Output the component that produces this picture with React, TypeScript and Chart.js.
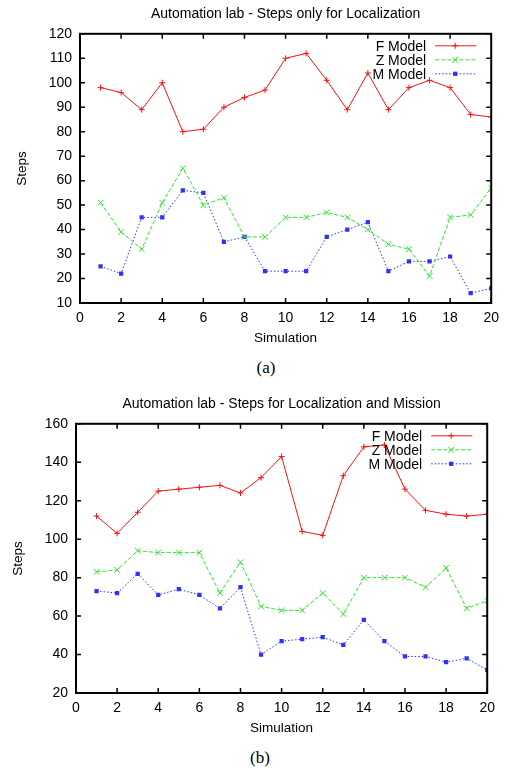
import React, { useEffect, useRef } from "react";
import { Chart, registerables } from "chart.js";

Chart.register(...registerables);

const simulations = [1, 2, 3, 4, 5, 6, 7, 8, 9, 10, 11, 12, 13, 14, 15, 16, 17, 18, 19, 20];
const seriesNames = ["F Model", "Z Model", "M Model"];

// Chart (a): steps only for localization
const titleA = "Automation lab - Steps only for Localization";
const fModelA = [98, 96, 89, 100, 80, 81, 90, 94, 97, 110, 112, 101, 89, 104, 89, 98, 101, 98, 87, 86];
const zModelA = [51, 39, 32, 51, 65, 50, 53, 37, 37, 45, 45, 47, 45, 40, 34, 32, 21, 45, 46, 57];
const mModelA = [25, 22, 45, 45, 56, 55, 35, 37, 23, 23, 23, 37, 40, 43, 23, 27, 27, 29, 14, 16];
const yRangeA = [10, 120, 10];

// Chart (b): steps for localization and mission
const titleB = "Automation lab - Steps for Localization and Mission";
const fModelB = [112, 103, 114, 125, 126, 127, 128, 124, 132, 143, 104, 102, 133, 148, 149, 126, 115, 113, 112, 113];
const zModelB = [83, 84, 94, 93, 93, 93, 72, 88, 65, 63, 63, 72, 61, 80, 80, 80, 75, 85, 64, 68];
const mModelB = [73, 72, 82, 71, 74, 71, 64, 75, 40, 47, 48, 49, 45, 58, 47, 39, 39, 36, 38, 32];
const yRangeB = [20, 160, 20];

const xRange = [0, 20, 2];
const xTitle = "Simulation";
const yTitle = "Steps";

const FONT = "'Liberation Sans', Arial, Helvetica, sans-serif";
const RED = "#f41414";
const GREEN = "#2ee62e";
const BLUE = "#3030ff";

function drawMarker(ctx: CanvasRenderingContext2D, style: string, x: number, y: number, r: number, color: string) {
  ctx.save();
  ctx.setLineDash([]);
  ctx.strokeStyle = color;
  ctx.fillStyle = color;
  ctx.lineWidth = 1;
  ctx.beginPath();
  if (style === "cross") {
    ctx.moveTo(x - r, y); ctx.lineTo(x + r, y);
    ctx.moveTo(x, y - r); ctx.lineTo(x, y + r);
    ctx.stroke();
  } else if (style === "crossRot") {
    ctx.moveTo(x - r * 0.75, y - r * 0.75); ctx.lineTo(x + r * 0.75, y + r * 0.75);
    ctx.moveTo(x - r * 0.75, y + r * 0.75); ctx.lineTo(x + r * 0.75, y - r * 0.75);
    ctx.stroke();
  } else {
    const s = r * Math.SQRT1_2;
    ctx.fillRect(x - s, y - s, 2 * s, 2 * s);
  }
  ctx.restore();
}

const gnuplotPlugin = {
  id: "gnuplotFrame",
  afterDraw(chart: any) {
    const { ctx, chartArea: a, scales } = chart;
    const xs = scales.x;
    const ys = scales.y;
    ctx.save();
    ctx.strokeStyle = "#000";
    ctx.lineWidth = 1.5;
    ctx.setLineDash([]);
    ctx.beginPath();
    const tl = 5;
    xs.ticks.forEach((t: any) => {
      const px = xs.getPixelForValue(t.value);
      ctx.moveTo(px, a.bottom); ctx.lineTo(px, a.bottom - tl);
      ctx.moveTo(px, a.top); ctx.lineTo(px, a.top + tl);
    });
    ys.ticks.forEach((t: any) => {
      const py = ys.getPixelForValue(t.value);
      ctx.moveTo(a.left, py); ctx.lineTo(a.left + tl, py);
      ctx.moveTo(a.right, py); ctx.lineTo(a.right - tl, py);
    });
    ctx.stroke();
    ctx.lineWidth = 2;
    ctx.strokeRect(a.left, a.top, a.right - a.left, a.bottom - a.top);

    // gnuplot style key, inside top right
    ctx.font = `14px ${FONT}`;
    ctx.textAlign = "right";
    ctx.textBaseline = "middle";
    chart.data.datasets.forEach((ds: any, i: number) => {
      const y = a.top + 12 + i * 14;
      ctx.fillStyle = "#000";
      ctx.fillText(ds.label, a.right - 65, y + 1);
      ctx.save();
      ctx.strokeStyle = ds.borderColor;
      ctx.lineWidth = ds.borderWidth;
      ctx.setLineDash(ds.borderDash || []);
      ctx.beginPath();
      ctx.moveTo(a.right - 56, y);
      ctx.lineTo(a.right - 15, y);
      ctx.stroke();
      ctx.restore();
      drawMarker(ctx, ds.pointStyle, a.right - 36, y, ds.pointRadius, ds.borderColor);
    });
    ctx.restore();
  },
};

function makeConfig(title: string, f: number[], z: number[], m: number[], yRange: number[]) {
  const toPts = (vals: number[]) => simulations.map((s, i) => ({ x: s, y: vals[i] }));
  const datasets = [
    { label: seriesNames[0], data: toPts(f), borderColor: RED, backgroundColor: RED, borderWidth: 1, borderDash: [], pointStyle: "cross", pointRadius: 3, pointBorderWidth: 1 },
    { label: seriesNames[1], data: toPts(z), borderColor: GREEN, backgroundColor: GREEN, borderWidth: 1, borderDash: [4, 2], pointStyle: "crossRot", pointRadius: 4, pointBorderWidth: 1 },
    { label: seriesNames[2], data: toPts(m), borderColor: BLUE, backgroundColor: BLUE, borderWidth: 1, borderDash: [1.5, 2], pointStyle: "rect", pointRadius: 3, pointBorderWidth: 0 },
  ];
  return {
    type: "line" as const,
    data: { datasets },
    options: {
      responsive: false,
      animation: false as const,
      devicePixelRatio: 1,
      layout: { padding: { left: 0, right: 13, top: 0, bottom: 0 } },
      plugins: {
        legend: { display: false },
        tooltip: { enabled: false },
        title: {
          display: true,
          fullSize: false,
          text: title,
          color: "#000",
          font: { family: FONT, size: 14, weight: "normal" as const },
          padding: { top: 6, bottom: 11 },
        },
      },
      elements: { line: { tension: 0 } },
      scales: {
        x: {
          type: "linear" as const,
          min: xRange[0],
          max: xRange[1],
          ticks: { stepSize: xRange[2], color: "#000", font: { family: FONT, size: 14 }, padding: 7 },
          grid: { display: false, drawTicks: false },
          border: { display: false },
          title: { display: true, text: xTitle, color: "#000", font: { family: FONT, size: 13.5 }, padding: { top: 0, bottom: 9 } },
          afterFit: (s: any) => { s.height = 52; },
        },
        y: {
          type: "linear" as const,
          min: yRange[0],
          max: yRange[1],
          ticks: { stepSize: yRange[2], color: "#000", font: { family: FONT, size: 14 }, padding: 8 },
          grid: { display: false, drawTicks: false },
          border: { display: false },
          title: { display: true, text: yTitle, color: "#000", font: { family: FONT, size: 13.5 }, padding: { top: 14, bottom: 0 } },
          afterFit: (s: any) => { s.width = 80; },
        },
      },
    },
    plugins: [gnuplotPlugin],
  };
}

function LineChart(props: { config: any; left: number; top: number }) {
  const ref = useRef<HTMLCanvasElement | null>(null);
  useEffect(() => {
    if (!ref.current) return;
    const chart = new Chart(ref.current, props.config);
    return () => chart.destroy();
  }, []);
  return (
    <canvas
      ref={ref}
      width={506}
      height={355}
      style={{ position: "absolute", left: props.left, top: props.top, width: 506, height: 355 }}
    />
  );
}

const captionStyle = (cx: number, cy: number): React.CSSProperties => ({
  position: "absolute",
  left: cx,
  top: cy,
  transform: "translate(-50%, -50%)",
  fontFamily: "'Liberation Serif', 'Times New Roman', serif",
  fontSize: 17,
  color: "#000",
  whiteSpace: "nowrap",
});

export default function App() {
  const cfgA = makeConfig(titleA, fModelA, zModelA, mModelA, yRangeA);
  const cfgB = makeConfig(titleB, fModelB, zModelB, mModelB, yRangeB);
  return (
    <div style={{ position: "absolute", left: 0, top: 0, width: 506, height: 771, background: "#fff", overflow: "hidden" }}>
      <LineChart config={cfgA} left={0} top={0} />
      <div style={captionStyle(266, 368)}>(a)</div>
      <LineChart config={cfgB} left={-4} top={390} />
      <div style={captionStyle(260, 758)}>(b)</div>
    </div>
  );
}
